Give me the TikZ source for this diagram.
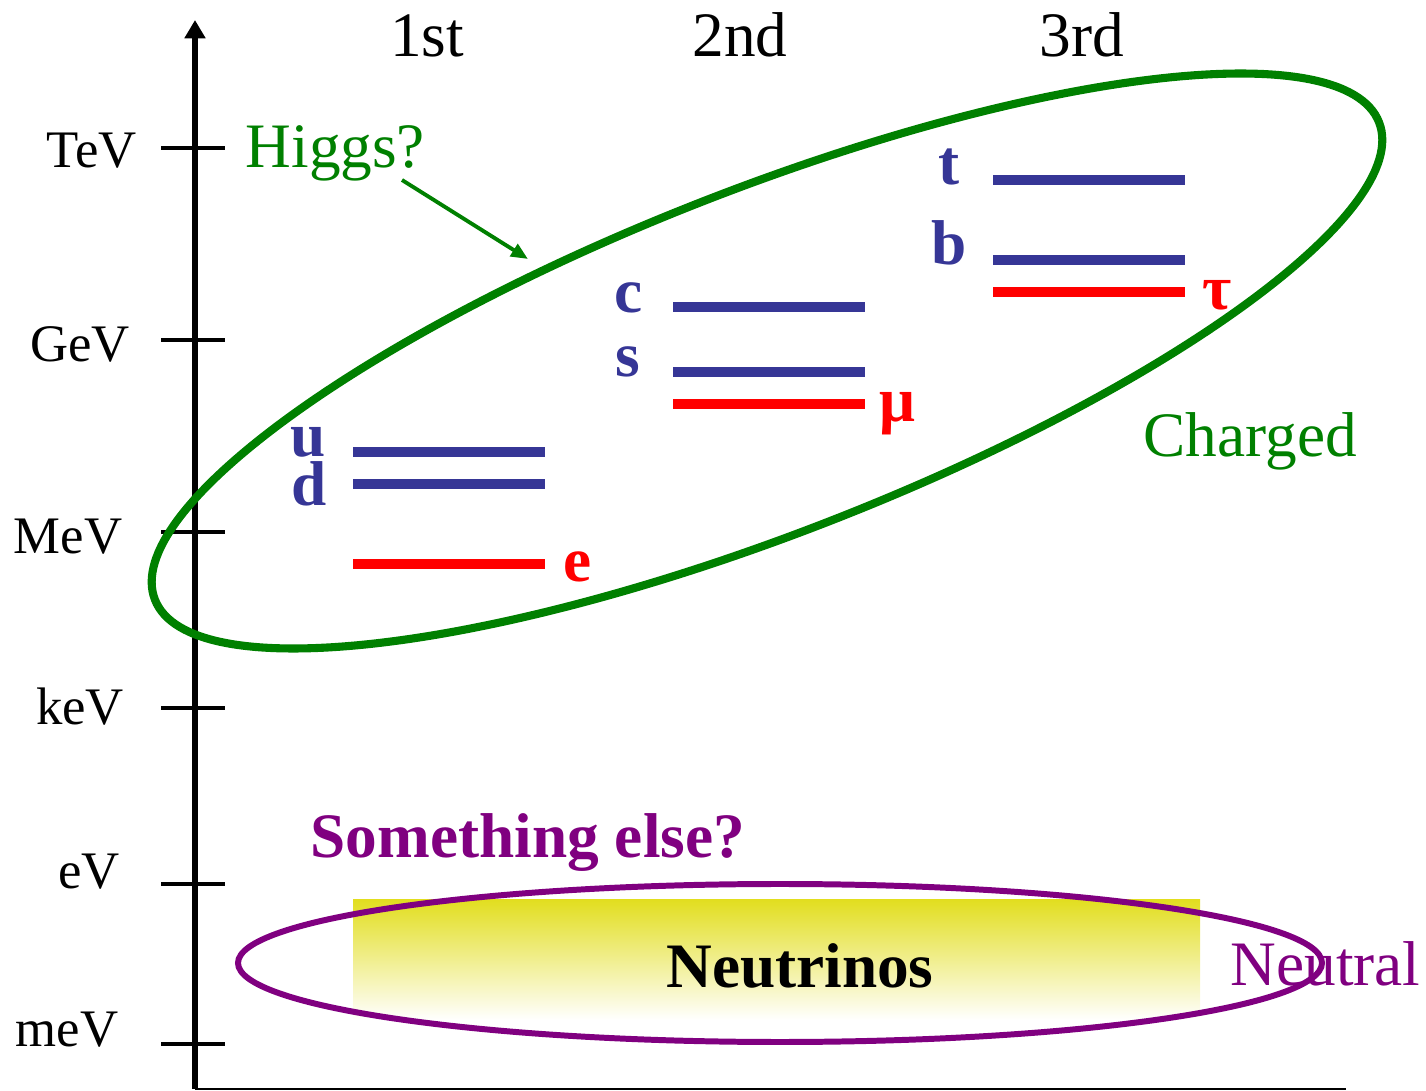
\documentclass[tikz,border=0pt]{standalone}
\usepackage{fontspec}
\setmainfont{Liberation Serif}
\usetikzlibrary{arrows.meta}
\definecolor{qblue}{RGB}{54,54,150}
\definecolor{lred}{RGB}{255,0,0}
\definecolor{hgreen}{RGB}{0,128,0}
\definecolor{npurple}{RGB}{128,0,128}
\definecolor{nyellow}{RGB}{226,222,32}
\begin{document}
\begin{tikzpicture}[x=0.01cm,y=-0.01cm,
  axislabel/.style={font=\fontsize{15}{18}\selectfont, inner sep=0, anchor=base},
  bigtext/.style={font=\fontsize{18}{21}\selectfont, inner sep=0},
  boldtext/.style={font=\fontsize{18}{21}\selectfont\bfseries, inner sep=0},
  quark/.style={boldtext, text=qblue, anchor=base},
  lepton/.style={boldtext, text=lred, anchor=base},
  qline/.style={line width=3.1pt, qblue},
  lline/.style={line width=3.1pt, lred},
  tickmark/.style={line width=1.4pt},
]
\useasboundingbox (0,0) rectangle (1426,1091);

% neutrino band
\shade[top color=nyellow, bottom color=white] (353,900) rectangle (1200,1020);
\draw[npurple, line width=1.7pt] (780,963) ellipse [x radius=542, y radius=79];

% axes
\coordinate (origin) at (195,1089);
\coordinate (ytop) at (195,20);
\coordinate (xend) at (1346,1089);
\draw[line width=0.85pt] (origin) -- (xend);
\draw[line width=1.7pt, -{Triangle[length=5.2pt,width=5.7pt]}] (origin) -- (ytop);

% ticks and labels
\foreach \ty/\lab/\cx/\by in {148/TeV/92/168, 340/GeV/80/362, 532/MeV/68/554, 708/keV/80/725, 884/eV/89/889, 1044/meV/67/1047}{
  \draw[tickmark] (161,\ty) -- (225,\ty);
  \node[axislabel] (lab\lab) at (\cx,\by) {\lab};
}

% generation headers
\node[bigtext, anchor=base] (gen1) at (427,57) {1st};
\node[bigtext, anchor=base] (gen2) at (740,57) {2nd};
\node[bigtext, anchor=base] (gen3) at (1082,57) {3rd};

% levels
\draw[qline] (353,452) -- (545,452);
\draw[qline] (353,484) -- (545,484);
\draw[lline] (353,564) -- (545,564);
\draw[qline] (673,307) -- (865,307);
\draw[qline] (673,372) -- (865,372);
\draw[lline] (673,404) -- (865,404);
\draw[qline] (993,180) -- (1185,180);
\draw[qline] (993,260) -- (1185,260);
\draw[lline] (993,292) -- (1185,292);

\node[quark] (qt) at (949,185) {t};
\node[quark] (qb) at (949,265) {b};
\node[quark] (qc) at (629,313) {c};
\node[quark] (qs) at (628,377) {s};
\node[quark] (qu) at (308,457) {u};
\node[quark] (qd) at (309,506) {d};
\node[lepton] (le) at (578,582) {e};
\node[lepton] (lmu) at (897,422) {μ};
\node[lepton] (ltau) at (1217,310) {τ};

% charged ellipse
\draw[hgreen, line width=2.3pt, rotate around={21.3:(767,361)}] (767,361) ellipse [x radius=657, y radius=172];

% Higgs
\node[bigtext, text=hgreen, anchor=base west] (higgs) at (245,168) {Higgs?};
\coordinate (hstart) at (402,180);
\coordinate (hend) at (528,259);
\draw[hgreen, line width=1.1pt, -{Triangle[length=4.8pt,width=4pt]}] (hstart) -- (hend);

\node[bigtext, text=hgreen, anchor=base west] (charged) at (1143,457) {Charged};
\node[boldtext, text=npurple, anchor=base west] (selse) at (310,857) {Something else?};
\node[boldtext, anchor=base] (neutrinos) at (800,988) {Neutrinos};
\node[bigtext, text=npurple, anchor=base west] (neutral) at (1230,985) {Neutral};
\end{tikzpicture}
\end{document}
